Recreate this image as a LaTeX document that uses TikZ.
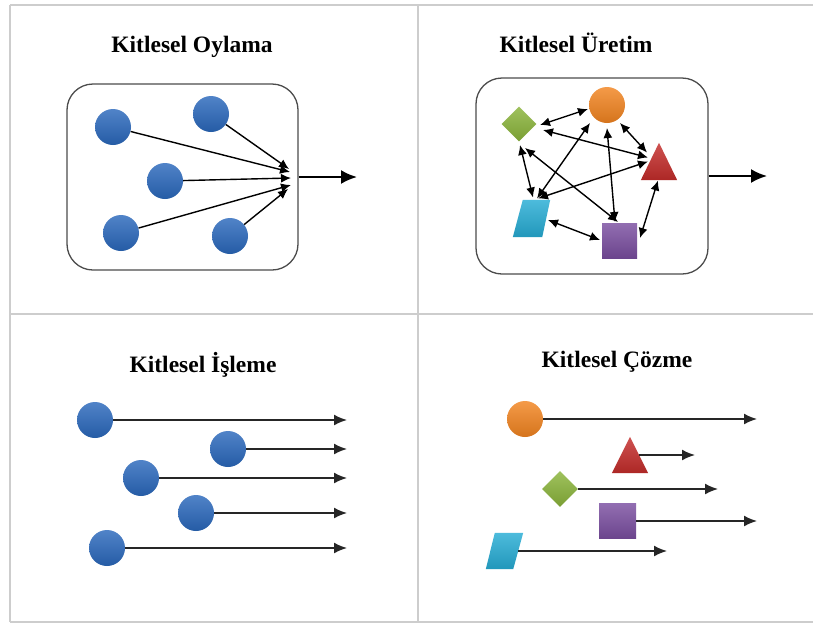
\documentclass[tikz,border=0pt]{standalone}
\usepackage{fontspec}
\setmainfont{Liberation Serif}
\usetikzlibrary{arrows.meta,shapes.geometric,calc}
\definecolor{cblue}{RGB}{42,104,188}
\definecolor{corange}{RGB}{242,132,32}
\definecolor{cgreen}{RGB}{138,180,58}
\definecolor{cred}{RGB}{196,44,42}
\definecolor{ccyan}{RGB}{38,172,212}
\definecolor{cpurple}{RGB}{122,78,160}
\definecolor{gridgray}{RGB}{205,205,205}
\begin{document}
\begin{tikzpicture}[x=1pt,y=-1pt,
  gridline/.style={draw=gridgray,line width=2pt},
  title/.style={font=\bfseries\fontsize{23.5}{27}\selectfont,anchor=base,inner sep=0pt},
  frame/.style={draw=black!70,line width=1.3pt,rounded corners=26pt,inner sep=0pt},
  ball/.style={circle,inner sep=0pt,minimum size=36pt,top color=#1!82!white,bottom color=#1!88!black},
  gem/.style={diamond,inner sep=0pt,minimum width=35pt,minimum height=35pt,top color=#1!82!white,bottom color=#1!88!black},
  sq/.style={rectangle,inner sep=0pt,minimum size=35pt,top color=#1!82!white,bottom color=#1!88!black},
  shapebox/.style={rectangle,inner sep=0pt,draw=none},
  fan/.style={draw=black,line width=1.4pt,-{Latex[length=10pt,width=9pt]}},
  dbl/.style={draw=black,line width=1.4pt,{Latex[length=10pt,width=9pt]}-{Latex[length=10pt,width=9pt]}},
  outarrow/.style={draw=black,line width=2.2pt,-{Latex[length=16pt,width=14pt]}},
  runarrow/.style={draw=black!85,line width=1.7pt,-{Latex[length=13pt,width=11pt]}}
]
\useasboundingbox (0,0) rectangle (813,627);
\fill[white] (0,0) rectangle (813,627);

% grid
\draw[gridline] (10,5) -- (813,5);
\draw[gridline] (10,5) -- (10,622);
\draw[gridline] (10,622) -- (813,622);
\draw[gridline] (10,314) -- (813,314);
\draw[gridline] (418,5) -- (418,622);

% titles
\node[title] (tOy) at (192,52) {Kitlesel Oylama};
\node[title] (tUr) at (576,52) {Kitlesel Üretim};
\node[title] (tIs) at (203,372) {Kitlesel İşleme};
\node[title] (tCo) at (617,367) {Kitlesel Çözme};

% ---- Kitlesel Oylama
\node[frame,minimum width=231pt,minimum height=186pt] (boxO) at (182.5,177) {};
\node[ball=cblue] (a1) at (113,127) {};
\node[ball=cblue] (a2) at (211,114) {};
\node[ball=cblue] (a3) at (165,181) {};
\node[ball=cblue] (a4) at (121,233) {};
\node[ball=cblue] (a5) at (230,236) {};
\coordinate (t1) at (290,172);
\coordinate (t2) at (289,169);
\coordinate (t3) at (291,178);
\coordinate (t4) at (291,185);
\coordinate (t5) at (288,189);
\draw[fan] (a1) -- (t1);
\draw[fan] (a2) -- (t2);
\draw[fan] (a3) -- (t3);
\draw[fan] (a4) -- (t4);
\draw[fan] (a5) -- (t5);
\coordinate (outO) at (357,177);
\draw[outarrow] (boxO.east) -- (outO);

% ---- Kitlesel Uretim
\node[frame,minimum width=232pt,minimum height=196pt] (boxU) at (592,176) {};
\node[ball=corange] (O) at (607,105) {};
\node[gem=cgreen] (G) at (519,124) {};
\node[shapebox,minimum width=36pt,minimum height=37pt] (R) at (659,161.5) {};
\shade[top color=cred!82!white,bottom color=cred!88!black] (R.south west) -- (R.north) -- (R.south east) -- cycle;
\node[shapebox,minimum width=37pt,minimum height=37pt] (C) at (531.5,218.5) {};
\shade[top color=ccyan!82!white,bottom color=ccyan!88!black] (C.south west) -- ([xshift=10pt]C.north west) -- (C.north east) -- ([xshift=-8pt]C.south east) -- cycle;
\node[sq=cpurple] (P) at (619.5,240.5) {};
\draw[dbl] ($(G)+(21,1)$) -- ($(O)+(-19,4)$);
\draw[dbl] ($(G)+(24,6)$) -- ($(R)+(-11,-4)$);
\draw[dbl] ($(G)+(1,21)$) -- ($(C)+(1.5,-21)$);
\draw[dbl] ($(G)+(6,24)$) -- ($(P)+(-1.5,-18.5)$);
\draw[dbl] ($(O)+(-17,18)$) -- ($(C)+(5.5,-20)$);
\draw[dbl] ($(O)+(0,23)$) -- ($(P)+(-4.5,-18.5)$);
\draw[dbl] ($(O)+(13,18)$) -- ($(R)+(-12,-9)$);
\draw[dbl] ($(R)+(-11,0)$) -- ($(C)+(6.5,-20)$);
\draw[dbl] ($(R)+(-1,19)$) -- ($(P)+(20.5,-2.5)$);
\draw[dbl] ($(C)+(16.5,1.5)$) -- ($(P)+(-19.5,-0.5)$);
\coordinate (outU) at (767,176);
\draw[outarrow] (boxU.east) -- (outU);

% ---- Kitlesel Isleme
\node[ball=cblue] (b1) at (95,420) {};
\node[ball=cblue] (b2) at (228,449) {};
\node[ball=cblue] (b3) at (141,478) {};
\node[ball=cblue] (b4) at (196,513) {};
\node[ball=cblue] (b5) at (107,548) {};
\coordinate (e1) at (347,420);
\coordinate (e2) at (347,449);
\coordinate (e3) at (347,478);
\coordinate (e4) at (347,513);
\coordinate (e5) at (347,548);
\draw[runarrow] (b1) -- (e1);
\draw[runarrow] (b2) -- (e2);
\draw[runarrow] (b3) -- (e3);
\draw[runarrow] (b4) -- (e4);
\draw[runarrow] (b5) -- (e5);

% ---- Kitlesel Cozme
\node[ball=corange] (o2) at (525,419) {};
\node[shapebox,minimum width=36pt,minimum height=36pt] (r2) at (630,455) {};
\shade[top color=cred!82!white,bottom color=cred!88!black] (r2.south west) -- (r2.north) -- (r2.south east) -- cycle;
\node[gem=cgreen,minimum width=36pt,minimum height=36pt] (g2) at (560,489) {};
\node[sq=cpurple,minimum width=37pt,minimum height=35pt] (s2) at (617.5,521) {};
\node[shapebox,minimum width=37pt,minimum height=36pt] (c2) at (504.5,551) {};
\shade[top color=ccyan!82!white,bottom color=ccyan!88!black] (c2.south west) -- ([xshift=9pt]c2.north west) -- (c2.north east) -- ([xshift=-10pt]c2.south east) -- cycle;
\coordinate (f1) at (757,419);
\coordinate (f2) at (695,455);
\coordinate (f3) at (718,489);
\coordinate (f4) at (757,521);
\coordinate (f5) at (667,551);
\draw[runarrow] (o2) -- (f1);
\draw[runarrow] ([xshift=-9pt]r2.east) -- (f2);
\draw[runarrow] (g2) -- (f3);
\draw[runarrow] (s2) -- (f4);
\draw[runarrow] ([xshift=-5pt]c2.east) -- (f5);
\end{tikzpicture}
\end{document}
